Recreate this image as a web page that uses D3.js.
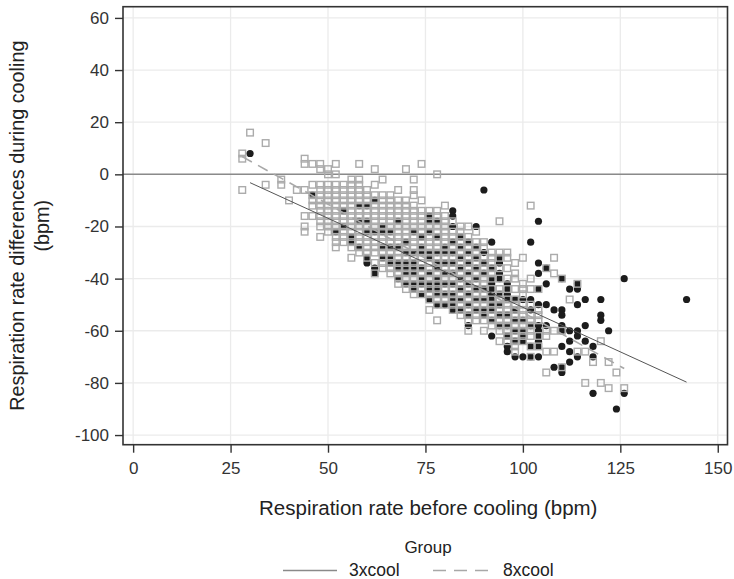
<!DOCTYPE html>
<html><head><meta charset="utf-8">
<script src="https://cdn.jsdelivr.net/npm/d3@7"></script>
<style>body{margin:0;background:#fff}svg{display:block;font-family:"Liberation Sans",Arial,sans-serif}</style>
</head><body><svg id="c" width="734" height="579"></svg>
<script>
// ---- data ----
const xTicks = [0, 25, 50, 75, 100, 125, 150];
const yTicks = [-100, -80, -60, -40, -20, 0, 20, 40, 60];
const groups = ["3xcool", "8xcool"];
const xTitle = "Respiration rate before cooling (bpm)";
const yTitle = ["Respiration rate differences during cooling", "(bpm)"];
const legendTitle = "Group";

// 3xcool: columns [x, [y values]]
const cool3 = [
  [30,[8]],[46,[-8]],[52,[-22]],[54,[-14,-20]],[56,[-24,-26]],[58,[-12,-18,-28]],
  [60,[-12,-18,-22,-32,-34]],[62,[-10,-22,-36,-38]],[64,[-20,-22,-28,-32]],
  [66,[-22,-28,-32,-34]],[68,[-18,-28,-34,-36,-40]],[70,[-26,-30,-34,-36,-38,-42]],
  [72,[-22,-30,-34,-36,-38,-42,-44]],[74,[-24,-28,-30,-36,-40,-42,-46]],
  [76,[-16,-18,-22,-30,-32,-38,-42,-44,-48]],[78,[-18,-24,-30,-34,-36,-40,-42,-44,-46,-50]],
  [80,[-28,-30,-34,-38,-42,-46,-50]],[82,[-14,-16,-20,-26,-30,-34,-38,-42,-46,-48,-50,-52]],
  [84,[-24,-28,-32,-36,-40,-44,-48,-52]],[86,[-26,-30,-34,-38,-42,-46,-50,-54,-58]],
  [88,[-20,-28,-32,-36,-40,-44,-48,-52]],[90,[-6,-30,-34,-38,-44,-48,-52,-54]],
  [92,[-26,-36,-40,-42,-44,-46,-48,-50,-52,-56,-62]],[94,[-32,-34,-38,-40,-46,-50,-54,-58]],
  [96,[-42,-44,-46,-48,-54,-58,-62,-66,-68]],[98,[-48,-52,-56,-60,-64,-70]],
  [100,[-48,-56,-60,-62,-64,-70]],[102,[-26,-48,-52,-58,-66,-70]],
  [104,[-18,-34,-38,-44,-50,-58,-60,-62,-64,-66,-70]],[106,[-36,-42,-50,-58]],
  [108,[-52,-74]],[110,[-40,-52,-54,-58,-60,-66,-74,-76]],[112,[-44,-60,-64,-68,-72]],
  [114,[-42,-44,-50,-60,-62,-70]],[116,[-48,-58,-64]],[118,[-66,-70,-84]],
  [120,[-48,-54,-56]],[122,[-60]],[124,[-90]],[126,[-40,-84]],[142,[-48]]
];
// 8xcool: columns [x, [y values]]
const cool8 = [
  [28,[8,6,-6]],[30,[16]],[34,[12,-4]],[38,[-2,-4]],[40,[-10]],[42,[-6]],
  [44,[6,4,-6,-16,-20,-22]],[46,[4,-4,-8,-10,-12,-16]],
  [48,[4,2,-4,-6,-8,-10,-12,-14,-16,-18,-20,-24]],
  [50,[2,0,-4,-6,-8,-10,-12,-14,-16,-18,-20,-22]],
  [52,[4,0,-4,-6,-8,-10,-12,-14,-16,-18,-20,-22,-24,-26,-28]],
  [54,[-4,-6,-8,-10,-12,-14,-16,-18,-20,-22,-24,-26]],
  [56,[-2,-4,-6,-8,-10,-12,-14,-16,-18,-20,-22,-24,-26,-28,-32]],
  [58,[4,-2,-4,-6,-8,-10,-12,-14,-16,-18,-20,-22,-24,-26,-28,-30]],
  [60,[-6,-8,-10,-12,-14,-16,-18,-20,-22,-24,-26,-28,-30,-32]],
  [62,[2,-4,-8,-10,-12,-14,-16,-18,-20,-22,-24,-26,-28,-30,-34,-38]],
  [64,[-2,-8,-10,-12,-14,-16,-18,-20,-22,-24,-26,-28,-30,-32,-34,-36]],
  [66,[-8,-10,-12,-14,-16,-18,-20,-22,-24,-26,-28,-30,-32,-34,-36,-38]],
  [68,[-6,-10,-12,-14,-16,-18,-20,-22,-24,-26,-28,-30,-32,-34,-36,-38,-40,-42]],
  [70,[2,-10,-12,-14,-16,-18,-20,-22,-24,-26,-28,-30,-32,-34,-36,-38,-40,-42,-44]],
  [72,[-2,-6,-8,-12,-14,-16,-18,-20,-22,-24,-26,-28,-30,-32,-34,-36,-38,-40,-42,-44,-46]],
  [74,[4,-10,-14,-16,-18,-20,-22,-24,-26,-28,-30,-32,-34,-36,-38,-40,-42,-44,-46]],
  [76,[-14,-16,-18,-20,-22,-24,-26,-28,-30,-32,-34,-36,-38,-40,-42,-44,-46,-48,-52]],
  [78,[0,-14,-16,-18,-20,-22,-24,-26,-28,-30,-32,-34,-36,-38,-40,-42,-44,-46,-48,-50,-56]],
  [80,[-12,-16,-18,-20,-22,-24,-26,-28,-30,-32,-34,-36,-38,-40,-42,-44,-46,-48,-50]],
  [82,[-18,-22,-24,-26,-28,-30,-32,-34,-36,-38,-40,-42,-44,-46,-48,-50,-52]],
  [84,[-20,-22,-24,-26,-28,-30,-32,-34,-36,-38,-40,-42,-44,-46,-48,-50,-52,-54]],
  [86,[-20,-24,-26,-28,-30,-32,-34,-36,-38,-40,-42,-44,-46,-48,-50,-52,-54,-56,-60]],
  [88,[-22,-26,-28,-30,-32,-34,-36,-38,-40,-42,-44,-46,-48,-50,-52,-54,-56]],
  [90,[-26,-28,-32,-34,-36,-38,-40,-42,-44,-46,-48,-50,-52,-54,-56,-60]],
  [92,[-30,-32,-34,-36,-38,-40,-44,-48,-50,-52,-54,-56,-58]],
  [94,[-18,-30,-32,-36,-40,-44,-46,-48,-50,-52,-54,-56,-58,-60,-64]],
  [96,[-30,-32,-36,-40,-44,-48,-50,-52,-54,-56,-58,-60,-62,-64]],
  [98,[-34,-38,-40,-44,-48,-50,-52,-54,-56,-58,-60,-62,-64,-66,-68]],
  [100,[-32,-42,-44,-46,-50,-52,-54,-56,-58,-60,-62,-64]],
  [102,[-12,-40,-44,-50,-54,-56,-58,-60,-62,-66,-70]],
  [104,[-44,-52,-54,-56,-62,-66]],[106,[-36,-60,-62,-68,-76]],[108,[-32,-38,-60,-68]],
  [110,[-40,-60,-74]],[112,[-48]],[114,[-42,-68]],[116,[-68,-80]],[118,[-72]],
  [120,[-64,-80]],[122,[-72,-82]],[124,[-76]],[126,[-82]]
];
// fitted lines (endpoints)
const fit3 = [[30,-3.2],[142,-79.7]];
const fit8 = [[28,6.8],[126,-74.5]];

// ---- drawing ----
const svg = d3.select("#c");
const x = d3.scaleLinear().domain([-2.6,152.5]).range([123,727.5]);
const y = d3.scaleLinear().domain([-103.7,64.3]).range([444.7,6.7]);
const [x0,x1] = x.range(), [y0,y1] = y.range();

const flat = cols => cols.flatMap(([cx,ys]) => ys.map(v => [cx,v]));

// grid
svg.append("g").selectAll("line").data(xTicks).join("line")
  .attr("x1",d=>x(d)).attr("x2",d=>x(d)).attr("y1",y1).attr("y2",y0)
  .attr("stroke","#ebebeb").attr("stroke-width",1.3);
svg.append("g").selectAll("line").data(yTicks).join("line")
  .attr("y1",d=>y(d)).attr("y2",d=>y(d)).attr("x1",x0).attr("x2",x1)
  .attr("stroke","#ebebeb").attr("stroke-width",1.3);

// zero reference line
svg.append("line").attr("x1",x0).attr("x2",x1).attr("y1",y(0)).attr("y2",y(0))
  .attr("stroke","#8a8a8a").attr("stroke-width",1.5);

// 3xcool circles
svg.append("g").selectAll("circle").data(flat(cool3)).join("circle")
  .attr("cx",d=>x(d[0])).attr("cy",d=>y(d[1])).attr("r",3.6).attr("fill","#1c1c1c");

// 8xcool squares (hollow)
const s = 6.6;
svg.append("g").selectAll("rect").data(flat(cool8)).join("rect")
  .attr("x",d=>x(d[0])-s/2).attr("y",d=>y(d[1])-s/2).attr("width",s).attr("height",s)
  .attr("fill","none").attr("stroke","#ababab").attr("stroke-width",1.4);

// fitted lines
const line = d3.line().x(d=>x(d[0])).y(d=>y(d[1]));
svg.append("path").attr("d",line(fit3)).attr("fill","none").attr("stroke","#555").attr("stroke-width",1);
svg.append("path").attr("d",line(fit8)).attr("fill","none").attr("stroke","#a8a8a8").attr("stroke-width",1.6).attr("stroke-dasharray","11,7");

// frame
svg.append("rect").attr("x",x0).attr("y",y1).attr("width",x1-x0).attr("height",y0-y1)
  .attr("fill","none").attr("stroke","#333").attr("stroke-width",1.6);

// axes
const fmt = d => String(d);
const ax = svg.append("g").attr("transform",`translate(0,${y0})`)
  .call(d3.axisBottom(x).tickValues(xTicks).tickSize(8).tickPadding(9).tickFormat(fmt));
const ay = svg.append("g").attr("transform",`translate(${x0},0)`)
  .call(d3.axisLeft(y).tickValues(yTicks).tickSize(8).tickPadding(6).tickFormat(fmt));
[ax,ay].forEach(g=>{
  g.select(".domain").remove();
  g.selectAll(".tick line").attr("stroke","#333").attr("stroke-width",1.4);
  g.selectAll(".tick text").attr("fill","#333").attr("font-size",17).attr("font-family","Liberation Sans, Arial, sans-serif");
});

// axis titles
svg.append("text").attr("x",(x0+x1)/2 + 3).attr("y",515).attr("text-anchor","middle")
  .attr("font-size",20.5).attr("fill","#222").text(xTitle);
const yt = svg.append("text").attr("transform",`translate(24,${(y0+y1)/2}) rotate(-90)`)
  .attr("text-anchor","middle").attr("font-size",19.8).attr("fill","#222");
yTitle.forEach((t,i)=>yt.append("tspan").attr("x",0).attr("dy",i===0?0:25).text(t));

// legend
svg.append("text").attr("x",428).attr("y",553).attr("text-anchor","middle")
  .attr("font-size",17).attr("fill","#222").text(legendTitle);
const lg = [
  {name:groups[0], x1:283, x2:337, tx:349, dash:null, col:"#8a8a8a"},
  {name:groups[1], x1:433, x2:490, tx:503, dash:"13,8", col:"#a8a8a8"}
];
lg.forEach(d=>{
  svg.append("line").attr("x1",d.x1).attr("x2",d.x2).attr("y1",570.5).attr("y2",570.5)
    .attr("stroke",d.col).attr("stroke-width",1.3).attr("stroke-dasharray",d.dash);
  svg.append("text").attr("x",d.tx).attr("y",575.5).attr("font-size",17.5).attr("fill","#222").text(d.name);
});
</script></body></html>
